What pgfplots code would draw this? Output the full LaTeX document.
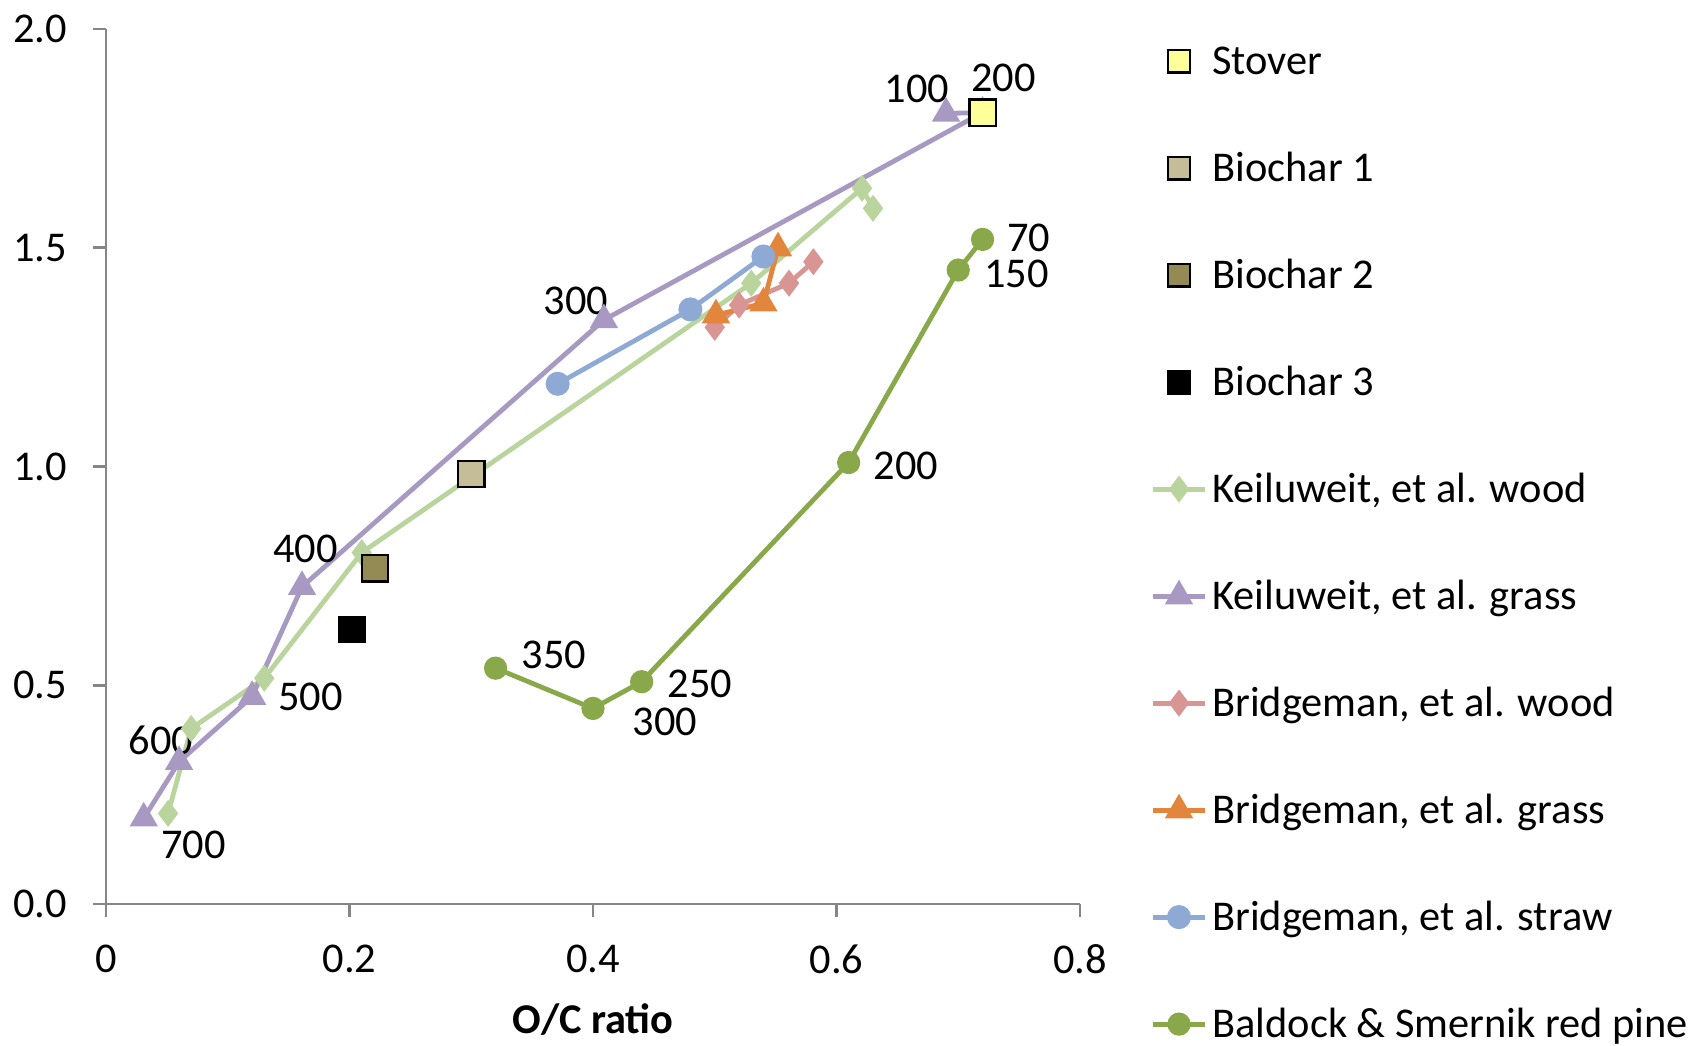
\documentclass[border=0pt]{standalone}
\usepackage{fontspec}
\setmainfont{Carlito}
\usepackage{pgfplots}
\pgfplotsset{compat=1.18}
\definecolor{axisgray}{HTML}{868686}
\definecolor{stover}{HTML}{FFFF99}
\definecolor{bcone}{HTML}{C4BD97}
\definecolor{bctwo}{HTML}{948A54}
\definecolor{kwood}{HTML}{B9D49C}
\definecolor{kgrass}{HTML}{A899C2}
\definecolor{bwood}{HTML}{D99594}
\definecolor{bgrass}{HTML}{E2853D}
\definecolor{bstraw}{HTML}{8EA9D4}
\definecolor{baldock}{HTML}{88A84A}
\pgfplotsset{
  sqleg/.style={legend image code/.code={\draw[mark size=2.8pt] plot[mark=square*] coordinates {(6.5pt,0.7pt)};}},
  lnleg/.style={legend image code/.code={\draw[mark repeat=2,mark phase=2] plot coordinates {(0pt,0.7pt)(6.5pt,0.7pt)(13pt,0.7pt)};}},
}
\begin{document}
\begin{tikzpicture}[font=\fontsize{10.6}{12.7}\selectfont]
\path[use as bounding box] (-26.5pt,-35.5pt) rectangle (397pt,226pt);
\begin{axis}[
  at={(0,0)}, anchor=south west,
  scale only axis, width=243.5pt, height=218.75pt,
  xmin=0, xmax=0.8, ymin=0, ymax=2,
  axis lines*=left,
  axis line style={draw=axisgray, line width=0.7pt},
  xtick={0,0.2,0.4,0.6,0.8}, xticklabels={0,0.2,0.4,0.6,0.8},
  ytick={0,0.5,1,1.5,2}, yticklabels={0.0,0.5,1.0,1.5,2.0},
  tick align=outside, major tick length=3.2pt,
  tick style={draw=axisgray, line width=0.7pt},
  xticklabel style={yshift=-3.5pt},
  yticklabel style={xshift=-3pt},
  xlabel={\textbf{O/C ratio}},
  xlabel style={at={(axis description cs:0.5,0)}, anchor=center, yshift=-29pt},
  clip=false,
  legend style={at={(1.0717,0.985)}, anchor=north west, draw=none, fill=none,
    inner sep=0pt, row sep=16.25pt, column sep=0pt,
    nodes={inner xsep=1.25pt, inner ysep=0pt, text height=8pt, text depth=2.5pt},
    font=\fontsize{10.6}{12.7}\selectfont},
  legend cell align=left,
]
% legend entries
\addlegendimage{sqleg, draw=black, fill=stover, line width=0.6pt}
\addlegendentry{Stover}
\addlegendimage{sqleg, draw=black, fill=bcone, line width=0.6pt}
\addlegendentry{Biochar 1}
\addlegendimage{sqleg, draw=black, fill=bctwo, line width=0.6pt}
\addlegendentry{Biochar 2}
\addlegendimage{sqleg, draw=black, fill=black, line width=0.6pt}
\addlegendentry{Biochar 3}
\addlegendimage{lnleg, color=kwood, line width=1.2pt, mark=diamond*, mark size=2.4pt}
\addlegendentry{Keiluweit, et al. wood}
\addlegendimage{lnleg, color=kgrass, line width=1.2pt, mark=triangle*, mark size=2.9pt}
\addlegendentry{Keiluweit, et al. grass}
\addlegendimage{lnleg, color=bwood, line width=1.2pt, mark=diamond*, mark size=2.4pt}
\addlegendentry{Bridgeman, et al. wood}
\addlegendimage{lnleg, color=bgrass, line width=1.2pt, mark=triangle*, mark size=2.9pt}
\addlegendentry{Bridgeman, et al. grass}
\addlegendimage{lnleg, color=bstraw, line width=1.2pt, mark=*, mark size=2.4pt}
\addlegendentry{Bridgeman, et al. straw}
\addlegendimage{lnleg, color=baldock, line width=1.2pt, mark=*, mark size=2.3pt}
\addlegendentry{Baldock \& Smernik red pine}

% Keiluweit wood
\addplot[forget plot, color=kwood, line width=1.2pt, mark=diamond*, mark size=2.4pt] coordinates {
 (0.051,0.207) (0.070,0.401) (0.130,0.516) (0.210,0.803) (0.530,1.419) (0.621,1.636) (0.630,1.590)};
% Keiluweit grass
\addplot[forget plot, color=kgrass, line width=1.2pt, mark=triangle*, mark size=2.9pt] coordinates {
 (0.690,1.807) (0.720,1.809) (0.409,1.335) (0.161,0.725) (0.120,0.474) (0.060,0.325) (0.031,0.196)};
% Bridgeman wood
\addplot[forget plot, color=bwood, line width=1.2pt, mark=diamond*, mark size=2.4pt] coordinates {
 (0.500,1.318) (0.520,1.369) (0.561,1.419) (0.581,1.468)};
% Bridgeman grass
\addplot[forget plot, color=bgrass, line width=1.2pt, mark=triangle*, mark size=2.9pt] coordinates {
 (0.501,1.346) (0.540,1.373) (0.552,1.499)};
% Bridgeman straw
\addplot[forget plot, color=bstraw, line width=1.2pt, mark=*, mark size=2.4pt] coordinates {
 (0.371,1.189) (0.480,1.359) (0.540,1.480)};
% Baldock & Smernik
\addplot[forget plot, color=baldock, line width=1.2pt, mark=*, mark size=2.3pt] coordinates {
 (0.720,1.519) (0.700,1.449) (0.610,1.009) (0.440,0.508) (0.400,0.447) (0.320,0.539)};
% squares
\addplot[forget plot, only marks, mark=square*, mark size=3.3pt, draw=black, fill=stover, line width=0.6pt] coordinates {(0.720,1.809)};
\addplot[forget plot, only marks, mark=square*, mark size=3.3pt, draw=black, fill=bcone, line width=0.6pt] coordinates {(0.300,0.983)};
\addplot[forget plot, only marks, mark=square*, mark size=3.3pt, draw=black, fill=bctwo, line width=0.6pt] coordinates {(0.221,0.767)};
\addplot[forget plot, only marks, mark=square*, mark size=3.1pt, draw=black, fill=black, line width=0.6pt] coordinates {(0.202,0.628)};

% temperature labels
\begin{scope}[every node/.style={inner sep=0.5pt}]
\node at (axis cs:0.666,1.862) {100};
\node at (axis cs:0.737,1.889) {200};
\node at (axis cs:0.386,1.378) {300};
\node at (axis cs:0.164,0.812) {400};
\node at (axis cs:0.168,0.474) {500};
\node at (axis cs:0.045,0.373) {600};
\node at (axis cs:0.072,0.136) {700};
\node at (axis cs:0.758,1.523) {70};
\node at (axis cs:0.748,1.440) {150};
\node at (axis cs:0.657,1.002) {200};
\node at (axis cs:0.488,0.504) {250};
\node at (axis cs:0.459,0.417) {300};
\node at (axis cs:0.368,0.570) {350};
\end{scope}
\end{axis}
\end{tikzpicture}
\end{document}
